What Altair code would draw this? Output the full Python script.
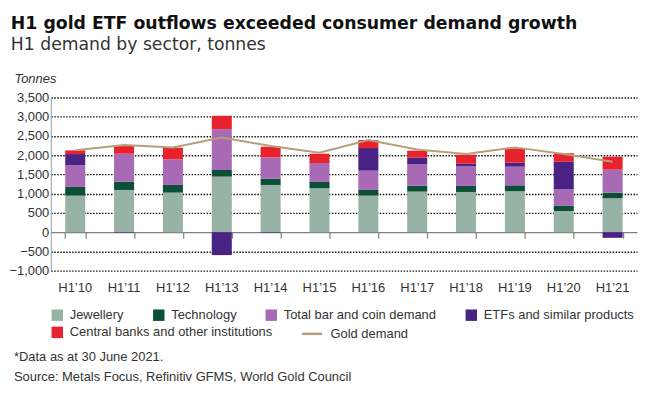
import altair as alt
import pandas as pd

years = ["H1’10", "H1’11", "H1’12", "H1’13", "H1’14", "H1’15",
         "H1’16", "H1’17", "H1’18", "H1’19", "H1’20", "H1’21"]
jewellery = [950, 1097, 1028, 1443, 1227, 1140, 950, 1054, 1045, 1063, 553, 881]
technology = [225, 216, 199, 173, 164, 165, 147, 156, 156, 155, 138, 147]
bar_coin = [562, 726, 665, 1062, 553, 492, 501, 561, 518, 484, 424, 596]
etfs = [293, -15, 0, -596, -15, 0, 588, 164, 61, 104, 717, -147]
central_banks = [95, 199, 303, 346, 276, 242, 207, 182, 233, 371, 216, 337]
gold_demand = [2130, 2264, 2203, 2462, 2238, 2065, 2393, 2151, 2030, 2203, 2030, 1832]

sectors = ["Jewellery", "Technology", "Total bar and coin demand",
           "ETFs and similar products", "Central banks and other institutions"]
line_name = "Gold demand"
colors = ["#97b3a5", "#0b4f38", "#a86ab4", "#4a2283", "#e8222d", "#b5a07a"]
y_ticks = [-1000, -500, 0, 500, 1000, 1500, 2000, 2500, 3000, 3500]
title_text = "H1 gold ETF outflows exceeded consumer demand growth"
subtitle_text = "H1 demand by sector, tonnes"
footnotes = ["*Data as at 30 June 2021.",
             "Source: Metals Focus, Refinitiv GFMS, World Gold Council"]

series = [jewellery, technology, bar_coin, etfs, central_banks]
rows = []
for si, (name, vals) in enumerate(zip(sectors, series)):
    for yr, v in zip(years, vals):
        rows.append({"year": yr, "sector": name, "value": v, "order": si})
bars_df = pd.DataFrame(rows)
line_df = pd.DataFrame({"year": years, "value": gold_demand, "series": line_name})
cb_df = pd.DataFrame({"year": years, "value": central_banks, "series": sectors[4]})
foot_df = pd.DataFrame({"text": ["\n".join(footnotes)]})

W, H = 589, 174
FONT = "Liberation Sans"
TFONT = "DejaVu Sans"
ymin, ymax = -1000, 3500
zero_offset = -H * (0 - ymin) / (ymax - ymin)

xscale = alt.Scale(domain=years, paddingInner=0.59, paddingOuter=0.295)
yscale = alt.Scale(domain=[ymin, ymax], nice=False)

tan = colors[-1]
red = colors[4]

legend_common = dict(
    title=None, orient="none", direction="horizontal",
    columnPadding=28, labelLimit=400,
    labelFont=FONT, labelFontSize=13, labelColor="#333333",
    symbolOffset=0, symbolOpacity=1,
)
legend_a = alt.Legend(legendX=0, legendY=212, values=sectors[:4],
                      symbolType="square", symbolSize=132, labelOffset=6,
                      **legend_common)
legend_b = alt.Legend(legendX=0, legendY=229.5, symbolType="square",
                      symbolSize=132, labelOffset=6, **legend_common)
legend_c = alt.Legend(legendX=251, legendY=226, symbolType="stroke",
                      symbolSize=400, symbolStrokeWidth=2.5, labelOffset=7,
                      **legend_common)

y_axis = alt.Axis(title="Tonnes", values=y_ticks, format=",.0f",
                  domain=True, domainColor="#999999", domainWidth=1,
                  ticks=False, labelFont=FONT,
                  labelFontSize=13, labelColor="#333333", labelPadding=2,
                  labelOverlap=False,
                  grid=True, gridColor="#111111", gridDash=[1.5, 1.5],
                  gridWidth=1.4,
                  gridOpacity={"condition": {"test": "datum.value === 0", "value": 0}, "value": 1},
                  titleAngle=0, titleAlign="left", titleBaseline="middle",
                  titleX=-37, titleY=-19, titleFont=FONT, titleFontSize=13,
                  titleFontStyle="italic", titleFontWeight="normal",
                  titleColor="#333333")

bars = alt.Chart(bars_df).mark_bar().encode(
    x=alt.X("year:N", scale=xscale, sort=years,
            axis=alt.Axis(title=None, orient="bottom", domain=False, ticks=False,
                          labelAngle=0, labelFont=FONT, labelFontSize=13,
                          labelColor="#333333", labelPadding=11)),
    y=alt.Y("value:Q", scale=yscale, stack="zero", axis=y_axis),
    color=alt.Color("sector:N", scale=alt.Scale(domain=sectors, range=colors[:5]),
                    legend=legend_a),
    order=alt.Order("order:Q"),
)

# invisible layer carrying the "Central banks" legend entry of the second row
legend_row = alt.Chart(cb_df).mark_bar(opacity=0).encode(
    x=alt.X("year:N", scale=xscale, sort=years, axis=None),
    y=alt.Y("value:Q", scale=yscale, axis=y_axis),
    color=alt.Color("series:N",
                    scale=alt.Scale(domain=[sectors[4]], range=[red]),
                    legend=legend_b),
)

line = alt.Chart(line_df).mark_line(strokeWidth=2).encode(
    x=alt.X("year:N", scale=xscale, sort=years,
            axis=alt.Axis(title=None, orient="bottom", offset=zero_offset,
                          labels=False, domain=True, domainColor="#808080",
                          domainWidth=1.2, ticks=True, tickBand="extent",
                          tickColor="#808080", tickWidth=1.2, tickSize=6,
                          grid=False)),
    y=alt.Y("value:Q", scale=yscale, axis=y_axis),
    color=alt.Color("series:N", scale=alt.Scale(domain=[line_name], range=[tan]),
                    legend=legend_c),
)

foot = alt.Chart(foot_df).mark_text(
    align="left", baseline="top", font=FONT, fontSize=13, color="#333333",
    lineBreak="\n", lineHeight=20,
).encode(
    x=alt.value(-37),
    y=alt.value(H + 81),
    text="text:N",
)

chart = (
    alt.layer(bars, legend_row, line, foot)
    .resolve_axis(x="independent")
    .resolve_scale(color="independent")
    .resolve_legend(color="independent")
    .properties(
        width=W, height=H,
        title=alt.TitleParams(text=title_text, subtitle=subtitle_text, anchor="start",
                              frame="bounds", dx=2, font=TFONT, fontSize=17.4,
                              fontWeight="bold", color="#111111",
                              subtitleFont=TFONT, subtitleFontSize=17.3,
                              subtitleColor="#333333", subtitlePadding=4, offset=19),
        padding={"left": 0, "top": 6, "right": 5, "bottom": 2},
    )
    .configure_view(stroke=None)
)

chart.save("out.html", embed_options={"renderer": "svg", "actions": False})
